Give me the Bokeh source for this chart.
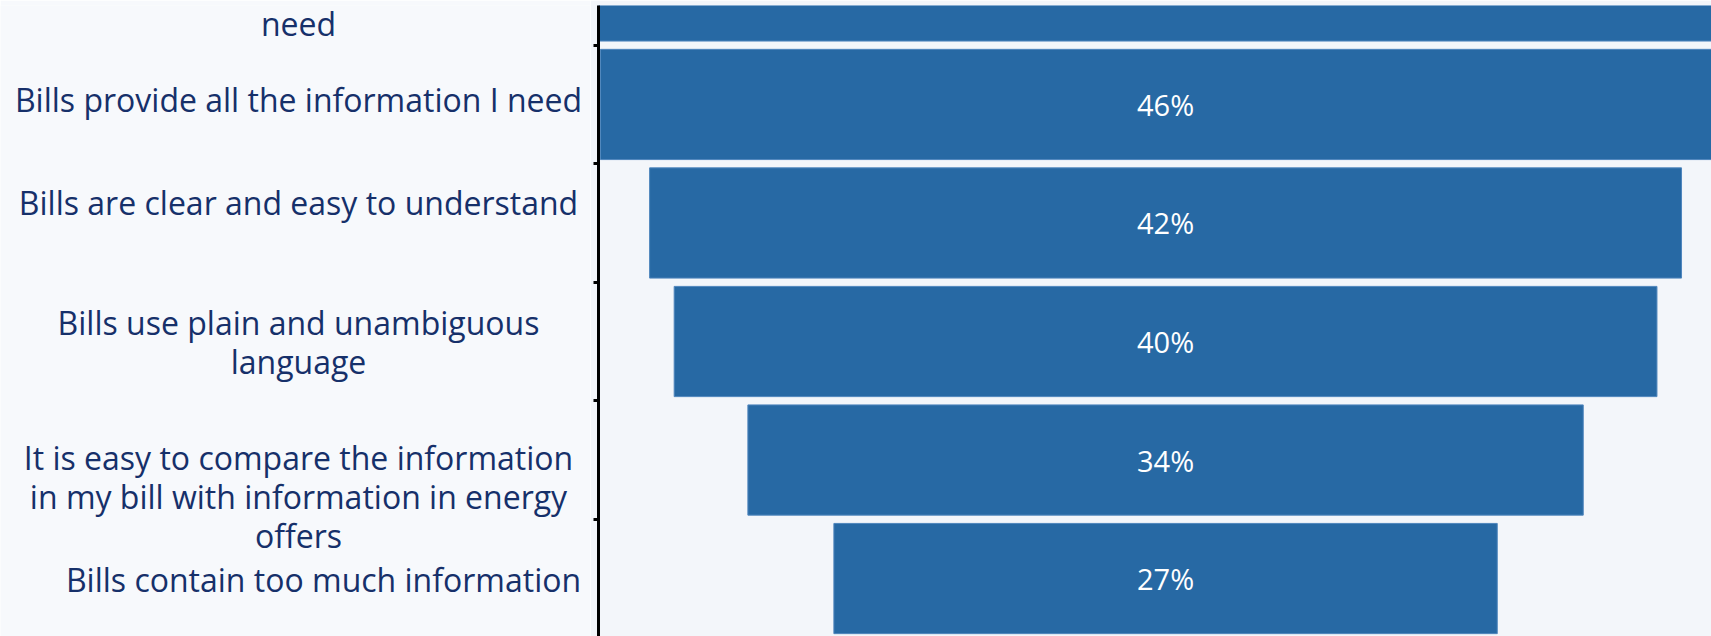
from bokeh.plotting import figure
from bokeh.layouts import row
from bokeh.models import FixedTicker, Range1d, ColumnDataSource
from bokeh.core.properties import value
from bokeh.embed import file_html
from bokeh.resources import INLINE

# Data (top to bottom of the funnel)
categories = [
    "Bills are accurate and show\nall the details that I\nneed",
    "Bills provide all the information I need",
    "Bills are clear and easy to understand",
    "Bills use plain and unambiguous\nlanguage",
    "It is easy to compare the information\nin my bill with information in energy\noffers",
    "Bills contain too much information",
]
values = [50, 46, 42, 40, 34, 27]
value_labels = ["50%", "46%", "42%", "40%", "34%", "27%"]

# Label placement tweaks (screen pixels; positive dy = down), as in the original layout
label_dx = [0, 0, 0, 0, 0, 25]
label_dy = [-6, -9, -24, -2, 35, 0]

n = len(categories)
ypos = [n - 1 - i for i in range(n)]  # top category highest
src = ColumnDataSource(dict(
    y=ypos,
    left=[-v / 2 for v in values],
    right=[v / 2 for v in values],
    lab=value_labels,
    cat=categories,
    x=[0] * n,
    dx=label_dx,
    dy=label_dy,
))

BG_L = "#f7f9fc"
BG_R = "#f3f6fa"
TXT = "#16306a"

# Left panel: category labels
lab = figure(
    width=590, height=636, x_range=Range1d(0, 590), y_range=Range1d(-0.489, 4.878),
    x_axis_location=None, y_axis_location=None,
    output_backend="svg", toolbar_location=None,
    min_border_left=0, min_border_right=0, min_border_top=0, min_border_bottom=0,
)
lab.background_fill_color = BG_L
lab.border_fill_color = BG_L
lab.outline_line_color = None
lab.grid.visible = False
lab.text(x=298, y="y", text="cat", source=src, x_offset="dx", y_offset="dy",
         text_align="center", text_baseline="middle", text_color=TXT,
         text_font=value("Open Sans"), text_font_size="32px",
         text_line_height=0.9)

# Right panel: funnel bars
p = figure(
    width=1121, height=636,
    x_range=Range1d(-23.08, 22.22), y_range=Range1d(-0.489, 4.835),
    x_axis_location=None,
    output_backend="svg", toolbar_location=None,
    min_border_left=8, min_border_right=0, min_border_top=5, min_border_bottom=0,
)
p.background_fill_color = BG_R
p.border_fill_color = BG_R
p.outline_line_color = None
p.grid.visible = False

p.hbar(y="y", left="left", right="right", height=0.93, source=src,
       fill_color="#2769a4", line_color="#4f86bd", line_width=1)
p.text(x="x", y="y", text="lab", source=src, text_align="center",
       text_baseline="middle", text_color="white",
       text_font=value("Open Sans"), text_font_size="29px")

ax = p.yaxis[0]
ax.ticker = FixedTicker(ticks=[], minor_ticks=[y + 0.5 for y in ypos[1:]] + [-0.5])
ax.major_label_standoff = 0
ax.major_tick_line_color = None
ax.major_tick_out = 0
ax.major_tick_in = 0
ax.minor_tick_line_color = "black"
ax.minor_tick_line_width = 3
ax.minor_tick_out = 5
ax.minor_tick_in = 0
ax.axis_line_color = "black"
ax.axis_line_width = 3

layout = row(lab, p, spacing=0)
open("out.html", "w").write(file_html(layout, INLINE))
